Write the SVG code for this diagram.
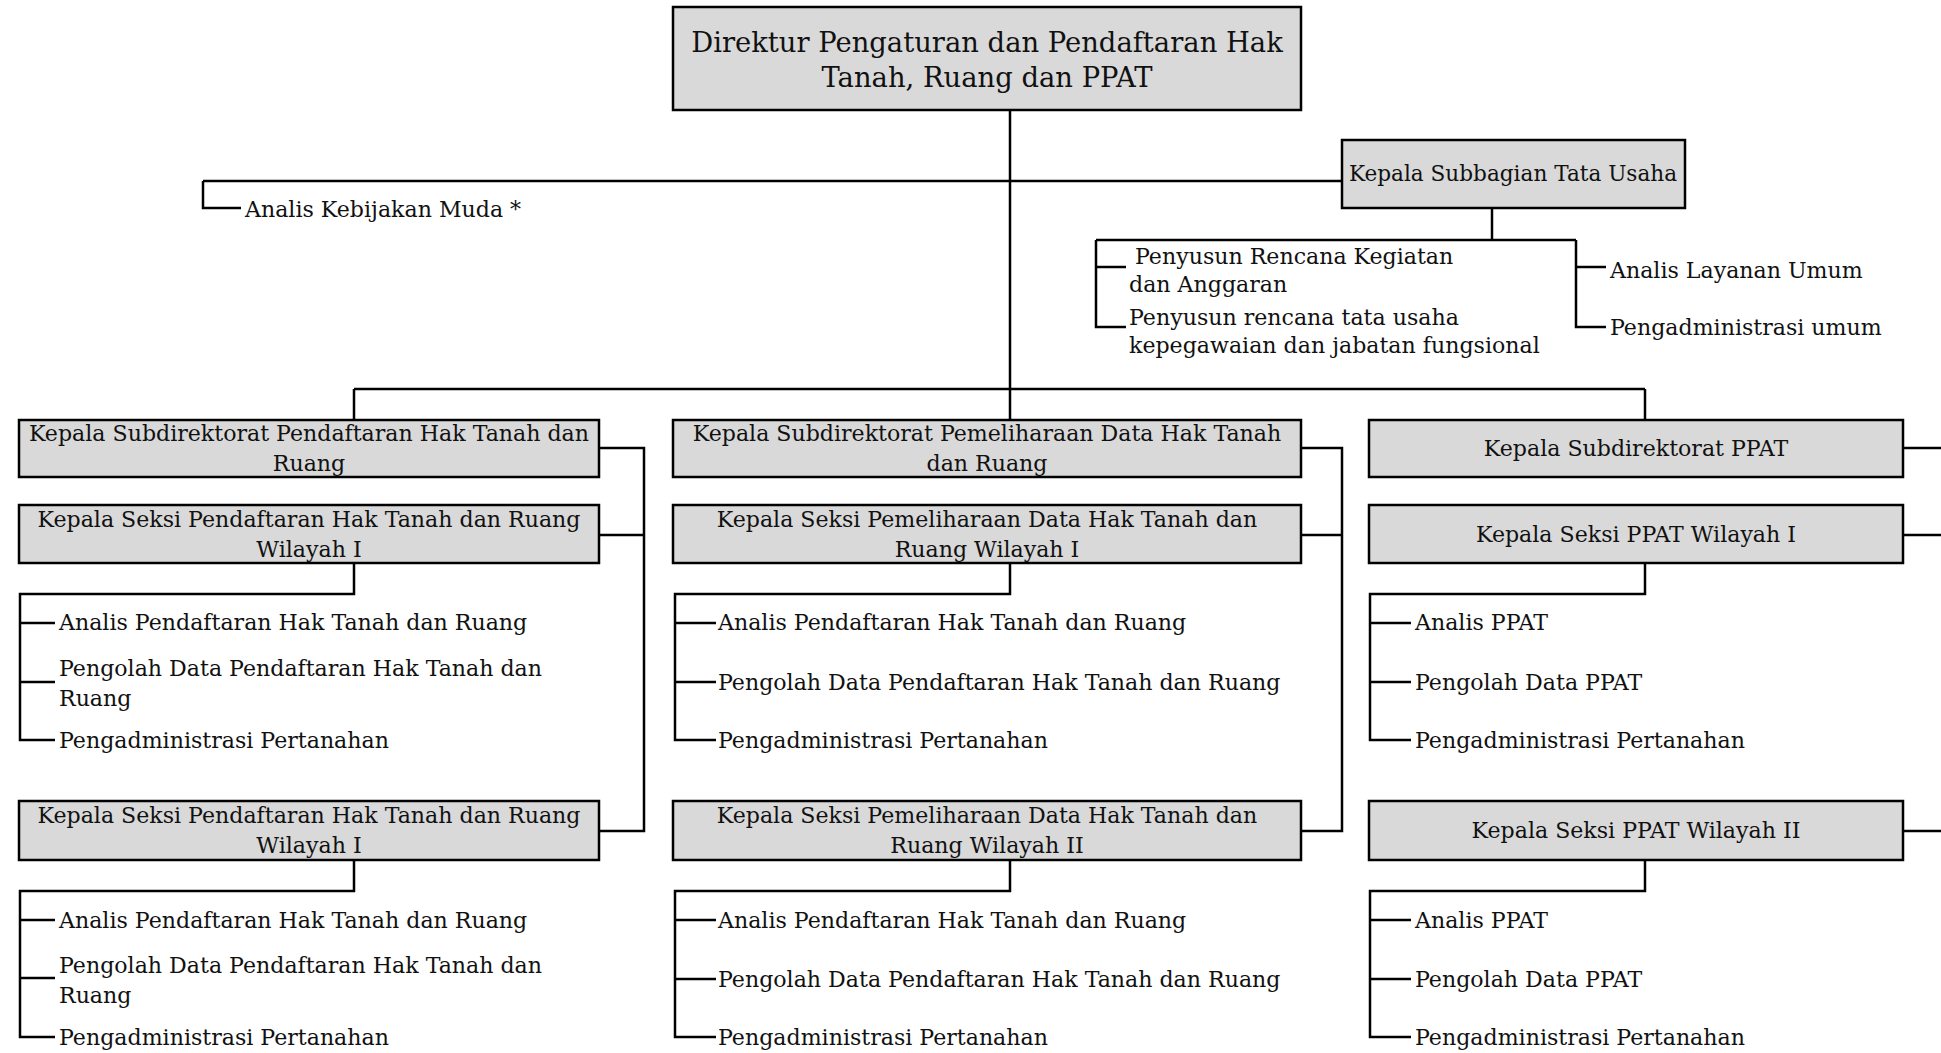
<svg xmlns="http://www.w3.org/2000/svg" width="1941" height="1053" viewBox="0 0 1941 1053">
<style>
.box{fill:#d9d9d9;stroke:#000;stroke-width:2.5}
.ln{fill:none;stroke:#000;stroke-width:2.5}
.t{font-family:"DejaVu Serif","Liberation Serif",serif;font-size:22.1px;fill:#111}
.c{text-anchor:middle}
.big{font-size:27.4px}
.sm{font-size:21.6px}
</style>
<rect width="1941" height="1053" fill="#fff"/>
<g id="connectors" class="ln">
<path d="M1010 110V420"/>
<path d="M203 181H1342"/>
<path d="M203 181V208H241"/>
<path d="M1492 208V240"/>
<path d="M1096 240H1576"/>
<path d="M1096 240V327H1126M1096 267H1126"/>
<path d="M1576 240V327H1606M1576 267H1606"/>
<path d="M354 389H1645M354 389V420M1645 389V420"/>
<path d="M599 448H644V831H599M599 535H644"/>
<path d="M1301 448H1342V831H1301M1301 535H1342"/>
<path d="M1903 448H1941M1903 535H1941M1903 831H1941"/>
<path d="M354 563V594H20V740H55M20 623H55M20 682H55"/>
<path d="M354 860V891H20V1037H55M20 920H55M20 978H55"/>
<path d="M1010 563V594H675V740H716M675 623H716M675 682H716"/>
<path d="M1010 860V891H675V1037H716M675 920H716M675 979H716"/>
<path d="M1645 563V594H1370V740H1411M1370 623H1411M1370 682H1411"/>
<path d="M1645 860V891H1370V1037H1411M1370 920H1411M1370 979H1411"/>
</g>
<g id="direktur"><rect class="box" x="673" y="7" width="628" height="103"/>
<text class="t c big" x="987" y="52">Direktur Pengaturan dan Pendaftaran Hak</text>
<text class="t c big" x="987" y="87">Tanah, Ruang dan PPAT</text></g>
<g id="analis-kebijakan"><text class="t" x="245" y="217">Analis Kebijakan Muda *</text></g>
<g id="subbagian"><rect class="box" x="1342" y="140" width="343" height="68"/>
<text class="t c sm" x="1513" y="181">Kepala Subbagian Tata Usaha</text></g>
<g id="penyusun-rka"><text class="t" x="1135" y="264">Penyusun Rencana Kegiatan</text>
<text class="t" x="1129" y="292">dan Anggaran</text></g>
<g id="penyusun-tu"><text class="t" x="1129" y="325">Penyusun rencana tata usaha</text>
<text class="t" x="1129" y="353">kepegawaian dan jabatan fungsional</text></g>
<g id="analis-layanan"><text class="t" x="1610" y="278">Analis Layanan Umum</text></g>
<g id="pengadm-umum"><text class="t" x="1610" y="335">Pengadministrasi umum</text></g>

<g id="subdit-pendaftaran"><rect class="box" x="19" y="420" width="580" height="57"/>
<text class="t c" x="309" y="441">Kepala Subdirektorat Pendaftaran Hak Tanah dan</text>
<text class="t c" x="309" y="471">Ruang</text></g>
<g id="seksi-pendaftaran-1"><rect class="box" x="19" y="505" width="580" height="58"/>
<text class="t c" x="309" y="527">Kepala Seksi Pendaftaran Hak Tanah dan Ruang</text>
<text class="t c" x="309" y="557">Wilayah I</text></g>
<g id="a1-items">
<text class="t" x="59" y="630">Analis Pendaftaran Hak Tanah dan Ruang</text>
<text class="t" x="59" y="676">Pengolah Data Pendaftaran Hak Tanah dan</text>
<text class="t" x="59" y="706">Ruang</text>
<text class="t" x="59" y="748">Pengadministrasi Pertanahan</text></g>
<g id="seksi-pendaftaran-2"><rect class="box" x="19" y="801" width="580" height="59"/>
<text class="t c" x="309" y="823">Kepala Seksi Pendaftaran Hak Tanah dan Ruang</text>
<text class="t c" x="309" y="853">Wilayah I</text></g>
<g id="a2-items">
<text class="t" x="59" y="928">Analis Pendaftaran Hak Tanah dan Ruang</text>
<text class="t" x="59" y="973">Pengolah Data Pendaftaran Hak Tanah dan</text>
<text class="t" x="59" y="1003">Ruang</text>
<text class="t" x="59" y="1045">Pengadministrasi Pertanahan</text></g>

<g id="subdit-pemeliharaan"><rect class="box" x="673" y="420" width="628" height="57"/>
<text class="t c" x="987" y="441">Kepala Subdirektorat Pemeliharaan Data Hak Tanah</text>
<text class="t c" x="987" y="471">dan Ruang</text></g>
<g id="seksi-pemeliharaan-1"><rect class="box" x="673" y="505" width="628" height="58"/>
<text class="t c" x="987" y="527">Kepala Seksi Pemeliharaan Data Hak Tanah dan</text>
<text class="t c" x="987" y="557">Ruang Wilayah I</text></g>
<g id="b1-items">
<text class="t" x="718" y="630">Analis Pendaftaran Hak Tanah dan Ruang</text>
<text class="t" x="718" y="690">Pengolah Data Pendaftaran Hak Tanah dan Ruang</text>
<text class="t" x="718" y="748">Pengadministrasi Pertanahan</text></g>
<g id="seksi-pemeliharaan-2"><rect class="box" x="673" y="801" width="628" height="59"/>
<text class="t c" x="987" y="823">Kepala Seksi Pemeliharaan Data Hak Tanah dan</text>
<text class="t c" x="987" y="853">Ruang Wilayah II</text></g>
<g id="b2-items">
<text class="t" x="718" y="928">Analis Pendaftaran Hak Tanah dan Ruang</text>
<text class="t" x="718" y="987">Pengolah Data Pendaftaran Hak Tanah dan Ruang</text>
<text class="t" x="718" y="1045">Pengadministrasi Pertanahan</text></g>

<g id="subdit-ppat"><rect class="box" x="1369" y="420" width="534" height="57"/>
<text class="t c" x="1636" y="456">Kepala Subdirektorat PPAT</text></g>
<g id="seksi-ppat-1"><rect class="box" x="1369" y="505" width="534" height="58"/>
<text class="t c" x="1636" y="542">Kepala Seksi PPAT Wilayah I</text></g>
<g id="c1-items">
<text class="t" x="1415" y="630">Analis PPAT</text>
<text class="t" x="1415" y="690">Pengolah Data PPAT</text>
<text class="t" x="1415" y="748">Pengadministrasi Pertanahan</text></g>
<g id="seksi-ppat-2"><rect class="box" x="1369" y="801" width="534" height="59"/>
<text class="t c" x="1636" y="838">Kepala Seksi PPAT Wilayah II</text></g>
<g id="c2-items">
<text class="t" x="1415" y="928">Analis PPAT</text>
<text class="t" x="1415" y="987">Pengolah Data PPAT</text>
<text class="t" x="1415" y="1045">Pengadministrasi Pertanahan</text></g>
</svg>
